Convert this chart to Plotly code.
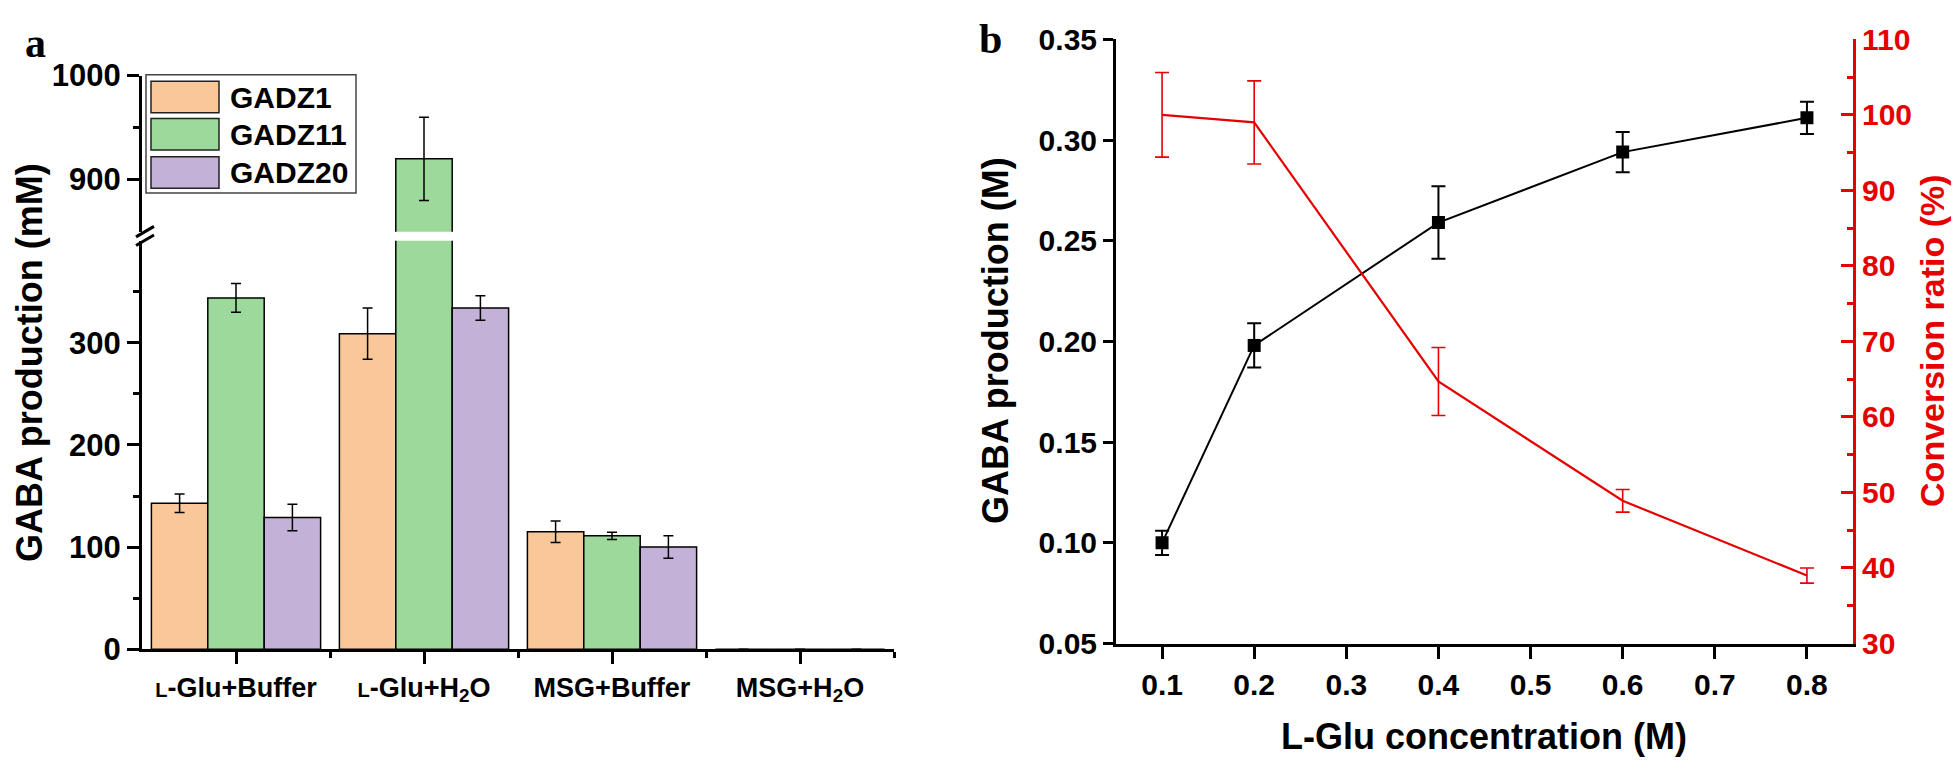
import plotly.graph_objects as go

# ---------------- data ----------------
groups = ['<span style="font-size:20px">L</span>-Glu+Buffer',
          '<span style="font-size:20px">L</span>-Glu+H<sub>2</sub>O',
          'MSG+Buffer', 'MSG+H<sub>2</sub>O']
series_names = ["GADZ1", "GADZ11", "GADZ20"]
gadz1 = [143, 309, 115, 0]
gadz1_err = [9, 25, 10.5, 0]
gadz11 = [344, 920, 111, 0]
gadz11_err = [14, 40, 3.5, 0]
gadz20 = [129, 334, 100, 0]
gadz20_err = [13, 12, 11, 0]
bar_colors = ["#FAC898", "#9DD99B", "#C3B1D8"]

conc = [0.1, 0.2, 0.4, 0.6, 0.8]
gaba_m = [0.100, 0.198, 0.259, 0.294, 0.311]
gaba_m_err = [0.006, 0.011, 0.018, 0.010, 0.008]
conv_ratio = [100.0, 99.0, 64.7, 48.9, 39.0]
conv_ratio_err = [5.6, 5.5, 4.5, 1.5, 1.0]

lower_ticks = [0, 100, 200, 300]
upper_ticks = [900, 1000]
left_b_ticks = [0.05, 0.10, 0.15, 0.20, 0.25, 0.30, 0.35]
right_b_ticks = [30, 40, 50, 60, 70, 80, 90, 100, 110]
x_b_ticks = [0.1, 0.2, 0.3, 0.4, 0.5, 0.6, 0.7, 0.8]

# ---------------- layout helpers ----------------
W, H = 1960, 769
def px(x):
    return x / W
def py(y):
    return 1 - y / H

FONT = "Liberation Sans, Arial, sans-serif"
SERIF = "Liberation Serif, Times New Roman, serif"
RED = "#E60000"

fig = go.Figure()

vals = [gadz1, gadz11, gadz20]
errs = [gadz1_err, gadz11_err, gadz20_err]
xpos = list(range(len(groups)))
offsets = [-0.45, -0.15, 0.15]
for yax in ["y", "y3"]:
    for name, v, e, c, off in zip(series_names, vals, errs, bar_colors, offsets):
        fig.add_trace(go.Bar(
            x=xpos, y=v, name=name, xaxis="x", yaxis=yax,
            width=0.3, offset=off,
            marker=dict(color=c, line=dict(color="black", width=1.5)),
            error_y=dict(type="data", array=e, color="black", thickness=1.5, width=5),
            showlegend=False,
        ))

fig.add_trace(go.Scatter(
    x=conc, y=conv_ratio, xaxis="x2", yaxis="y4", mode="lines",
    line=dict(color=RED, width=2.2),
    error_y=dict(type="data", array=conv_ratio_err, color=RED, thickness=1.6, width=7),
    showlegend=False,
))
fig.add_trace(go.Scatter(
    x=conc, y=gaba_m, xaxis="x2", yaxis="y2", mode="lines+markers",
    line=dict(color="black", width=2),
    marker=dict(symbol="square", size=13, color="black"),
    error_y=dict(type="data", array=gaba_m_err, color="black", thickness=2, width=7),
    showlegend=False,
))

axis_common = dict(showgrid=False, zeroline=False, showline=True, linecolor="black",
                   linewidth=3, tickcolor="black", tickwidth=2.5)
tickfont_a = dict(family=FONT, size=31, color="black", weight="bold")
tickfont_b = dict(family=FONT, size=30, color="black", weight="bold")

fig.update_layout(
    width=W, height=H, margin=dict(l=0, r=0, t=0, b=0),
    paper_bgcolor="white", plot_bgcolor="white",
    barmode="overlay", showlegend=False,
    font=dict(family=FONT),
    xaxis=dict(domain=[px(134), px(886)], range=[-0.5, 3.5], anchor="y",
               tickmode="array", tickvals=xpos, ticktext=groups,
               ticks="outside", ticklen=12,
               minor=dict(tickmode="array", tickvals=[0.5, 1.5, 2.5, 3.5], ticks="outside",
                          ticklen=6, tickwidth=2.5, tickcolor="black"),
               tickfont=dict(family=FONT, size=27, color="black", weight="bold"),
               **axis_common),
    yaxis=dict(domain=[py(654), py(226)], range=[0, 400], anchor="x",
               tickmode="array", tickvals=lower_ticks, ticks="outside", ticklen=12,
               minor=dict(tickmode="array", tickvals=[50, 150, 250, 350], ticks="outside",
                          ticklen=6, tickwidth=2.5, tickcolor="black"),
               tickfont=tickfont_a, **axis_common),
    yaxis3=dict(domain=[py(216.5), py(53)], range=[850, 1000], anchor="x",
                tickmode="array", tickvals=upper_ticks, ticks="outside", ticklen=12,
                minor=dict(tickmode="array", tickvals=[950], ticks="outside",
                           ticklen=6, tickwidth=2.5, tickcolor="black"),
                tickfont=tickfont_a, **axis_common),
    xaxis2=dict(domain=[px(1108), px(1845)], range=[0.05, 0.85], anchor="y2",
                tickmode="array", tickvals=x_b_ticks, tickformat=".1f",
                ticks="outside", ticklen=12,
                tickfont=tickfont_b, **axis_common),
    yaxis2=dict(domain=[py(648), py(15)], range=[0.05, 0.35], anchor="x2",
                tickmode="array", tickvals=left_b_ticks, tickformat=".2f",
                ticks="outside", ticklen=10,
                tickfont=tickfont_b, **axis_common),
    yaxis4=dict(domain=[py(648), py(15)], range=[30, 110], anchor="x2",
                overlaying="y2", side="right",
                tickmode="array", tickvals=right_b_ticks, ticks="inside", ticklen=12,
                minor=dict(tickmode="array", tickvals=[35, 45, 55, 65, 75, 85, 95, 105],
                           ticks="inside", ticklen=6, tickwidth=2.5, tickcolor=RED),
                tickfont=dict(family=FONT, size=30, color=RED, weight="bold"),
                showgrid=False, zeroline=False, showline=True, linecolor=RED,
                linewidth=3, tickcolor=RED, tickwidth=2.5),
)

title_font = dict(family=FONT, size=36, color="black", weight="bold")
annotations = [
    dict(text="GABA production (mM)", x=px(22), y=py(354), textangle=-90, font=title_font),
    dict(text="GABA production (M)", x=px(988), y=py(331), textangle=-90, font=title_font),
    dict(text="Conversion ratio (%)", x=px(1924), y=py(331), textangle=-90,
         font=dict(family=FONT, size=34, color=RED, weight="bold")),
    dict(text="L-Glu concentration (M)", x=px(1476), y=py(745), font=title_font),
    dict(text="a", x=px(27), y=py(44), yanchor="bottom", borderpad=0,
         font=dict(family=SERIF, size=42, color="black", weight="bold")),
    dict(text="b", x=px(982), y=py(40), yanchor="bottom", borderpad=0,
         font=dict(family=SERIF, size=42, color="black", weight="bold")),
]

shapes = []
# custom legend (large swatches as in the original)
shapes.append(dict(type="rect", xref="paper", yref="paper",
                   x0=px(138), x1=px(348), y0=py(176), y1=py(52),
                   line=dict(color="#444444", width=1.5), fillcolor="white", layer="above"))
row_tops = [59, 98, 138]
for name, c, top in zip(series_names, bar_colors, row_tops):
    shapes.append(dict(type="rect", xref="paper", yref="paper",
                       x0=px(143), x1=px(211), y0=py(top + 33), y1=py(top),
                       line=dict(color="#222222", width=1.5), fillcolor=c, layer="above"))
    annotations.append(dict(text=name, x=px(220), y=py(top + 17), xanchor="left",
                            font=dict(family=FONT, size=30, color="black", weight="bold")))

# axis break marks
for dy in (0, 9):
    shapes.append(dict(type="line", xref="paper", yref="paper",
                       x0=px(128), y0=py(222 + dy), x1=px(146), y1=py(211 + dy),
                       line=dict(color="black", width=3), layer="above"))

for a in annotations:
    a.setdefault("xref", "paper")
    a.setdefault("yref", "paper")
    a.setdefault("showarrow", False)
    a.setdefault("xanchor", "center")
    a.setdefault("yanchor", "middle")

fig.update_layout(annotations=annotations, shapes=shapes)
fig.write_html("out.html")
